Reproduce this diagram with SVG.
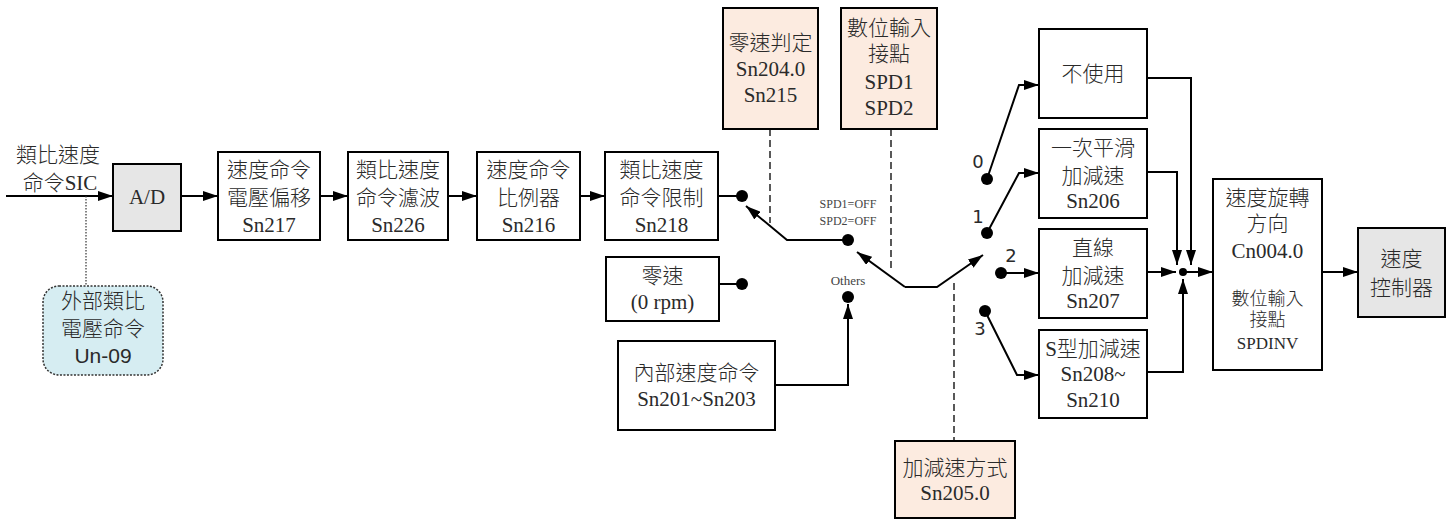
<svg xmlns="http://www.w3.org/2000/svg" width="1451" height="522" viewBox="0 0 1451 522">
<defs>
<marker id="arr" viewBox="0 0 15 10" refX="15" refY="5" markerWidth="15" markerHeight="10" markerUnits="userSpaceOnUse" orient="auto">
<path d="M0,0 L15,5 L0,10 z" fill="#000"/>
</marker>
<style>
.box{fill:#fff;stroke:#000;stroke-width:2}
.gray{fill:#e6e6e6;stroke:#000;stroke-width:2}
.peach{fill:#fcebe0;stroke:#000;stroke-width:2}
.blue{fill:#d6edf2;stroke:#333;stroke-width:1.5;stroke-dasharray:2,1.5}
.t{font-family:"Liberation Serif","Noto Sans CJK TC",serif;font-size:21px;font-weight:300;fill:#2a2a2a;text-anchor:middle}
.ts{font-family:"Liberation Sans","Noto Sans CJK TC",sans-serif;font-size:21px;font-weight:300;fill:#2a2a2a;text-anchor:middle}
.tsm{font-family:"Liberation Serif","Noto Sans CJK TC",serif;font-size:18px;font-weight:300;fill:#2a2a2a;text-anchor:middle}
.tx{font-family:"Liberation Serif",serif;font-size:12px;fill:#444;text-anchor:middle}
.num{font-family:"DejaVu Sans",sans-serif;font-size:18px;fill:#2a2a2a;text-anchor:middle}
.ln{fill:none;stroke:#000;stroke-width:2}
.ar{fill:none;stroke:#000;stroke-width:2;marker-end:url(#arr)}
.dash{fill:none;stroke:#000;stroke-width:1.3;stroke-dasharray:7,4}
.dot{fill:none;stroke:#333;stroke-width:1.2;stroke-dasharray:1.5,1.5}
</style>
</defs>

<g id="connectors">
<path class="ar" d="M6,196 H113"/>
<path class="ar" d="M181,196 H218"/>
<path class="ar" d="M320,196 H348"/>
<path class="ar" d="M448,196 H477"/>
<path class="ar" d="M580,196 H605"/>
<path class="dot" d="M86,196 V286"/>
<path class="ln" d="M718,196 H742"/>
<path class="ln" d="M719,284 H742"/>
<path class="dash" d="M770,129 V223"/>
<path class="dash" d="M891,129 V272"/>
<path class="dash" d="M954,283 V441"/>
<path class="ar" d="M848,240 H787 L746,206"/>
<path class="ar" d="M775,385 H848 V304"/>
<path class="ar" d="M905,287 L857,252"/>
<path class="ar" d="M905,287 H937 L983,255"/>
<path class="ar" d="M987,179 L1019,85 H1039"/>
<path class="ar" d="M987,233 L1019,173 H1039"/>
<path class="ar" d="M1001,273 H1039"/>
<path class="ar" d="M985,311 L1017,375 H1039"/>
<path class="ar" d="M1147,78 H1191 V265"/>
<path class="ar" d="M1147,172 H1177 V265"/>
<path class="ar" d="M1147,272 H1176"/>
<path class="ar" d="M1147,372 H1183 V279"/>
<path class="ar" d="M1183,272 H1213"/>
<path class="ln" d="M1213,272 H1322"/>
<path class="ar" d="M1322,272 H1358"/>
<circle cx="742" cy="196" r="6"/>
<circle cx="742" cy="284" r="6"/>
<circle cx="848" cy="240" r="6"/>
<circle cx="848" cy="297" r="6"/>
<circle cx="987" cy="179" r="6"/>
<circle cx="987" cy="233" r="6"/>
<circle cx="1001" cy="273" r="6"/>
<circle cx="985" cy="311" r="6"/>
<circle cx="1183" cy="272" r="4"/>
</g>

<g id="input-label">
<text class="t" x="58" y="162">類比速度</text>
<text class="t" x="60" y="190">命令SIC</text>
</g>

<g id="ad">
<rect class="gray" x="113" y="164" width="68" height="67"/>
<text class="t" x="147" y="204">A/D</text>
</g>

<g id="un09">
<rect class="blue" x="43" y="286" width="120" height="89" rx="16" ry="16"/>
<text class="ts" x="103" y="308">外部類比</text>
<text class="ts" x="103" y="336">電壓命令</text>
<text class="ts" x="103" y="363">Un-09</text>
</g>

<g id="sn217">
<rect class="box" x="218" y="152" width="102" height="88"/>
<text class="t" x="269" y="177">速度命令</text>
<text class="t" x="269" y="205">電壓偏移</text>
<text class="t" x="269" y="232">Sn217</text>
</g>

<g id="sn226">
<rect class="box" x="348" y="152" width="100" height="88"/>
<text class="t" x="398" y="177">類比速度</text>
<text class="t" x="398" y="205">命令濾波</text>
<text class="t" x="398" y="232">Sn226</text>
</g>

<g id="sn216">
<rect class="box" x="477" y="152" width="103" height="88"/>
<text class="t" x="528.5" y="177">速度命令</text>
<text class="t" x="528.5" y="205">比例器</text>
<text class="t" x="528.5" y="232">Sn216</text>
</g>

<g id="sn218">
<rect class="box" x="605" y="152" width="113" height="88"/>
<text class="t" x="661.5" y="177">類比速度</text>
<text class="t" x="661.5" y="205">命令限制</text>
<text class="t" x="661.5" y="232">Sn218</text>
</g>

<g id="zero-speed">
<rect class="box" x="606" y="257" width="113" height="64"/>
<text class="t" x="662.5" y="283">零速</text>
<text class="t" x="662.5" y="309">(0 rpm)</text>
</g>

<g id="internal">
<rect class="box" x="618" y="341" width="157" height="89"/>
<text class="t" x="696.5" y="380">內部速度命令</text>
<text class="t" x="696.5" y="406">Sn201~Sn203</text>
</g>

<g id="zero-judge">
<rect class="peach" x="723" y="8" width="95" height="121"/>
<text class="t" x="770.5" y="50">零速判定</text>
<text class="t" x="770.5" y="76">Sn204.0</text>
<text class="t" x="770.5" y="102">Sn215</text>
</g>

<g id="spd-input">
<rect class="peach" x="841" y="8" width="96" height="121"/>
<text class="t" x="889" y="35">數位輸入</text>
<text class="t" x="889" y="61">接點</text>
<text class="t" x="889" y="89">SPD1</text>
<text class="t" x="889" y="115">SPD2</text>
</g>

<g id="switch-labels">
<text class="tx" x="848" y="208">SPD1=OFF</text>
<text class="tx" x="848" y="225">SPD2=OFF</text>
<text class="tx" x="848" y="285" style="font-size:13px">Others</text>
<text class="num" x="978" y="168">0</text>
<text class="num" x="978" y="223">1</text>
<text class="num" x="1011" y="262">2</text>
<text class="num" x="980" y="335">3</text>
</g>

<g id="accel-mode">
<rect class="peach" x="895" y="441" width="120" height="77"/>
<text class="t" x="955" y="475">加減速方式</text>
<text class="t" x="955" y="500">Sn205.0</text>
</g>

<g id="unused">
<rect class="box" x="1039" y="29" width="108" height="89"/>
<text class="t" x="1093" y="81">不使用</text>
</g>

<g id="sn206">
<rect class="box" x="1039" y="129" width="108" height="89"/>
<text class="t" x="1093" y="155">一次平滑</text>
<text class="t" x="1093" y="183">加減速</text>
<text class="t" x="1093" y="208">Sn206</text>
</g>

<g id="sn207">
<rect class="box" x="1039" y="229" width="108" height="89"/>
<text class="t" x="1093" y="255">直線</text>
<text class="t" x="1093" y="283">加減速</text>
<text class="t" x="1093" y="308">Sn207</text>
</g>

<g id="sn208">
<rect class="box" x="1039" y="330" width="108" height="88"/>
<text class="t" x="1093" y="356">S型加減速</text>
<text class="t" x="1093" y="381">Sn208~</text>
<text class="t" x="1093" y="407">Sn210</text>
</g>

<g id="direction">
<rect class="box" x="1213" y="179" width="109" height="191"/>
<text class="t" x="1267.5" y="205">速度旋轉</text>
<text class="t" x="1267.5" y="231">方向</text>
<text class="t" x="1267.5" y="258">Cn004.0</text>
<text class="tsm" x="1267.5" y="305">數位輸入</text>
<text class="tsm" x="1267.5" y="326">接點</text>
<text class="tsm" x="1267.5" y="349" style="font-size:17px">SPDINV</text>
</g>

<g id="speed-controller">
<rect class="gray" x="1358" y="228" width="87" height="89"/>
<text class="t" x="1401.5" y="266">速度</text>
<text class="t" x="1401.5" y="295">控制器</text>
</g>
</svg>
